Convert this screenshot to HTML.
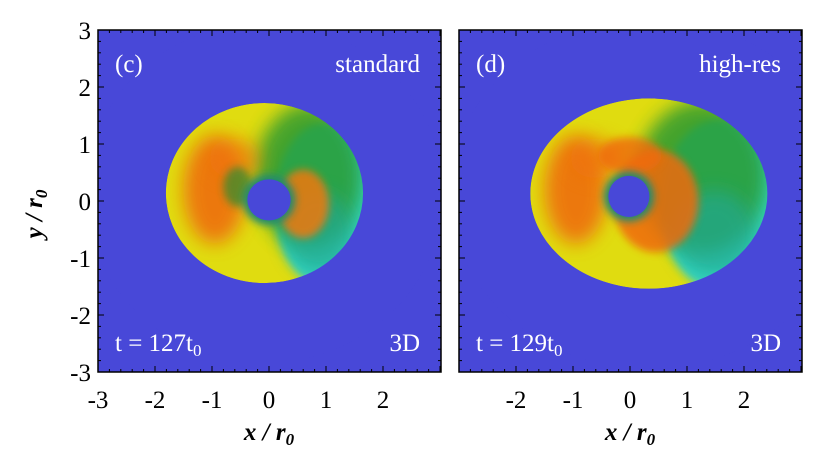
<!DOCTYPE html>
<html><head><meta charset="utf-8"><style>
body{margin:0;background:#fff;width:830px;height:464px;overflow:hidden;font-family:"Liberation Serif",serif}
</style></head><body>
<svg id="fig" width="830" height="464" xmlns="http://www.w3.org/2000/svg">
<defs>
<filter id="bl" x="-50%" y="-50%" width="200%" height="200%"><feGaussianBlur stdDeviation="9"/></filter>
<filter id="bl2" x="-50%" y="-50%" width="200%" height="200%"><feGaussianBlur stdDeviation="4"/></filter>
<clipPath id="cL"><rect x="98" y="30" width="343" height="342"/></clipPath>
<clipPath id="cR"><rect x="459" y="30" width="343" height="342"/></clipPath>
</defs>
<g id="panels"></g>
<text x="42" y="214" font-size="25" font-weight="bold" font-style="italic" text-anchor="middle" transform="rotate(-90 42 214)">y / r<tspan font-size="17" dy="5">0</tspan></text>
<text x="269" y="440" font-size="25" font-weight="bold" font-style="italic" text-anchor="middle">x / r<tspan font-size="17" dy="5">0</tspan></text>
<text x="630" y="440" font-size="25" font-weight="bold" font-style="italic" text-anchor="middle">x / r<tspan font-size="17" dy="5">0</tspan></text>
</svg>
<script>
const xTicksLeft=[-3,-2,-1,0,1,2];
const xTicksRight=[-2,-1,0,1,2];
const yTicks=[-3,-2,-1,0,1,2,3];
const panelLabels=["(c)","(d)"];
const runLabels=["standard","high-res"];
const timeLabels=["127","129"];
// disk geometry in r0 units: [cx, cy, rx, ry]
const outerDiskL=[-0.08,0.14,1.73,1.58];
const outerDiskR=[0.33,0.13,2.08,1.67];
const holeL=[0.0,0.02,0.38,0.36];
const holeR=[-0.02,0.08,0.36,0.36];
const NS="http://www.w3.org/2000/svg";
const g=document.getElementById('panels');
const S=57;
function mk(t,a,p){const e=document.createElementNS(NS,t);for(const k in a)e.setAttribute(k,a[k]);(p||g).appendChild(e);return e;}
const panels=[{x0:98,cx:269,ticks:xTicksLeft,disk:outerDiskL,hole:holeL,clip:'cL'},{x0:459,cx:630,ticks:xTicksRight,disk:outerDiskR,hole:holeR,clip:'cR'}];
const cy=201;
panels.forEach((p,i)=>{
 const X=v=>p.cx+v*S, Y=v=>cy-v*S;
 const pg=mk('g',{'clip-path':`url(#${p.clip})`});
 
 
 mk('rect',{x:p.x0,y:30,width:343,height:342,fill:'#4848d8'},pg);
 const d=p.disk;
 const disk=mk('ellipse',{cx:X(d[0]),cy:Y(d[1]),rx:d[2]*S,ry:d[3]*S,fill:'#e0dc10'},pg);
 
 
 // cyan rim then cover inner part
 mk('ellipse',{cx:X(d[0]+d[2]*0.6),cy:Y(d[1]-0.2),rx:d[2]*S*0.5,ry:d[3]*S*0.9,fill:'#20d8d8',opacity:0.9,filter:'url(#bl2)'},pg);
 mk('ellipse',{cx:X(d[0]+d[2]*0.45),cy:Y(d[1]+0.3),rx:d[2]*S*0.55,ry:d[3]*S*0.8,fill:'#2a9a30',opacity:0.85,filter:'url(#bl)'},pg);
 mk('ellipse',{cx:X(d[0]+d[2]*0.55),cy:Y(d[1]-0.7),rx:d[2]*S*0.35,ry:d[3]*S*0.45,fill:'#22a890',opacity:0.7,filter:'url(#bl)'},pg);
 // orange left
 mk('ellipse',{cx:X(-0.95),cy:Y(0.2),rx:0.55*S,ry:0.95*S,fill:'#f06010',opacity:0.8,filter:'url(#bl)'},pg);
 mk('ellipse',{cx:X(-0.6),cy:Y(0.75),rx:0.45*S,ry:0.35*S,fill:'#f07010',opacity:0.6,filter:'url(#bl)'},pg);
 if(i===0){
  mk('ellipse',{cx:X(0.6),cy:Y(-0.05),rx:0.45*S,ry:0.6*S,fill:'#f07810',opacity:0.85,filter:'url(#bl2)'},pg);
  mk('ellipse',{cx:X(-0.55),cy:Y(0.25),rx:0.25*S,ry:0.35*S,fill:'#2a8a30',opacity:0.7,filter:'url(#bl2)'},pg);
 } else {
  mk('ellipse',{cx:X(0.45),cy:Y(0.0),rx:0.75*S,ry:0.9*S,fill:'#f06a10',opacity:0.85,filter:'url(#bl2)'},pg);
  mk('ellipse',{cx:X(0.0),cy:Y(0.8),rx:0.55*S,ry:0.32*S,fill:'#f06a10',opacity:0.8,filter:'url(#bl2)'},pg);
 }
 const h=p.hole;
 mk('ellipse',{cx:X(h[0]),cy:Y(h[1]),rx:(h[2]+0.08)*S,ry:(h[3]+0.08)*S,fill:'#208a70',filter:'url(#bl2)'},pg);
 const hole=mk('ellipse',{cx:X(h[0]),cy:Y(h[1]),rx:h[2]*S,ry:h[3]*S,fill:'#4848d8'},pg);
 
 
 mk('ellipse',{cx:X(d[0]),cy:Y(d[1]),rx:d[2]*S+40,ry:d[3]*S+40,fill:'none',stroke:'#4848d8','stroke-width':80},pg);
 mk('rect',{x:p.x0,y:30,width:343,height:342,fill:'none',stroke:'#000','stroke-width':1.5});
 for(let v=-3;v<=3.001;v+=0.2){const big=Math.abs(v-Math.round(v))<1e-6;const L=big?6:3;
  mk('line',{x1:X(v),x2:X(v),y1:372,y2:372-L,stroke:'#000'});mk('line',{x1:X(v),x2:X(v),y1:30,y2:30+L,stroke:'#000'});
  mk('line',{x1:p.x0,x2:p.x0+L,y1:Y(v),y2:Y(v),stroke:'#000'});mk('line',{x1:p.x0+343,x2:p.x0+343-L,y1:Y(v),y2:Y(v),stroke:'#000'});}
 p.ticks.forEach(v=>{const t=mk('text',{x:X(v),y:408,'font-size':25,'text-anchor':'middle'});t.textContent=v;
  
  });
 const tl=mk('text',{x:p.x0+17,y:72,'font-size':25,fill:'#fff'});tl.textContent=panelLabels[i];
 
 
 const rl=mk('text',{x:p.x0+322,y:72,'font-size':25,fill:'#fff','text-anchor':'end'});rl.textContent=runLabels[i];
 
 
 const dl=mk('text',{x:p.x0+322,y:351,'font-size':25,fill:'#fff','text-anchor':'end'});dl.textContent='3D';
 
 
 const tt=mk('text',{x:p.x0+17,y:351,'font-size':25,fill:'#fff'});tt.innerHTML='t = '+timeLabels[i]+'t<tspan font-size="17" dy="5">0</tspan>';
 
 
});
yTicks.forEach(v=>{const t=mk('text',{x:91,y:cy-v*S+9,'font-size':25,'text-anchor':'end'});t.textContent=v;
 
 });
</script>
</body></html>
